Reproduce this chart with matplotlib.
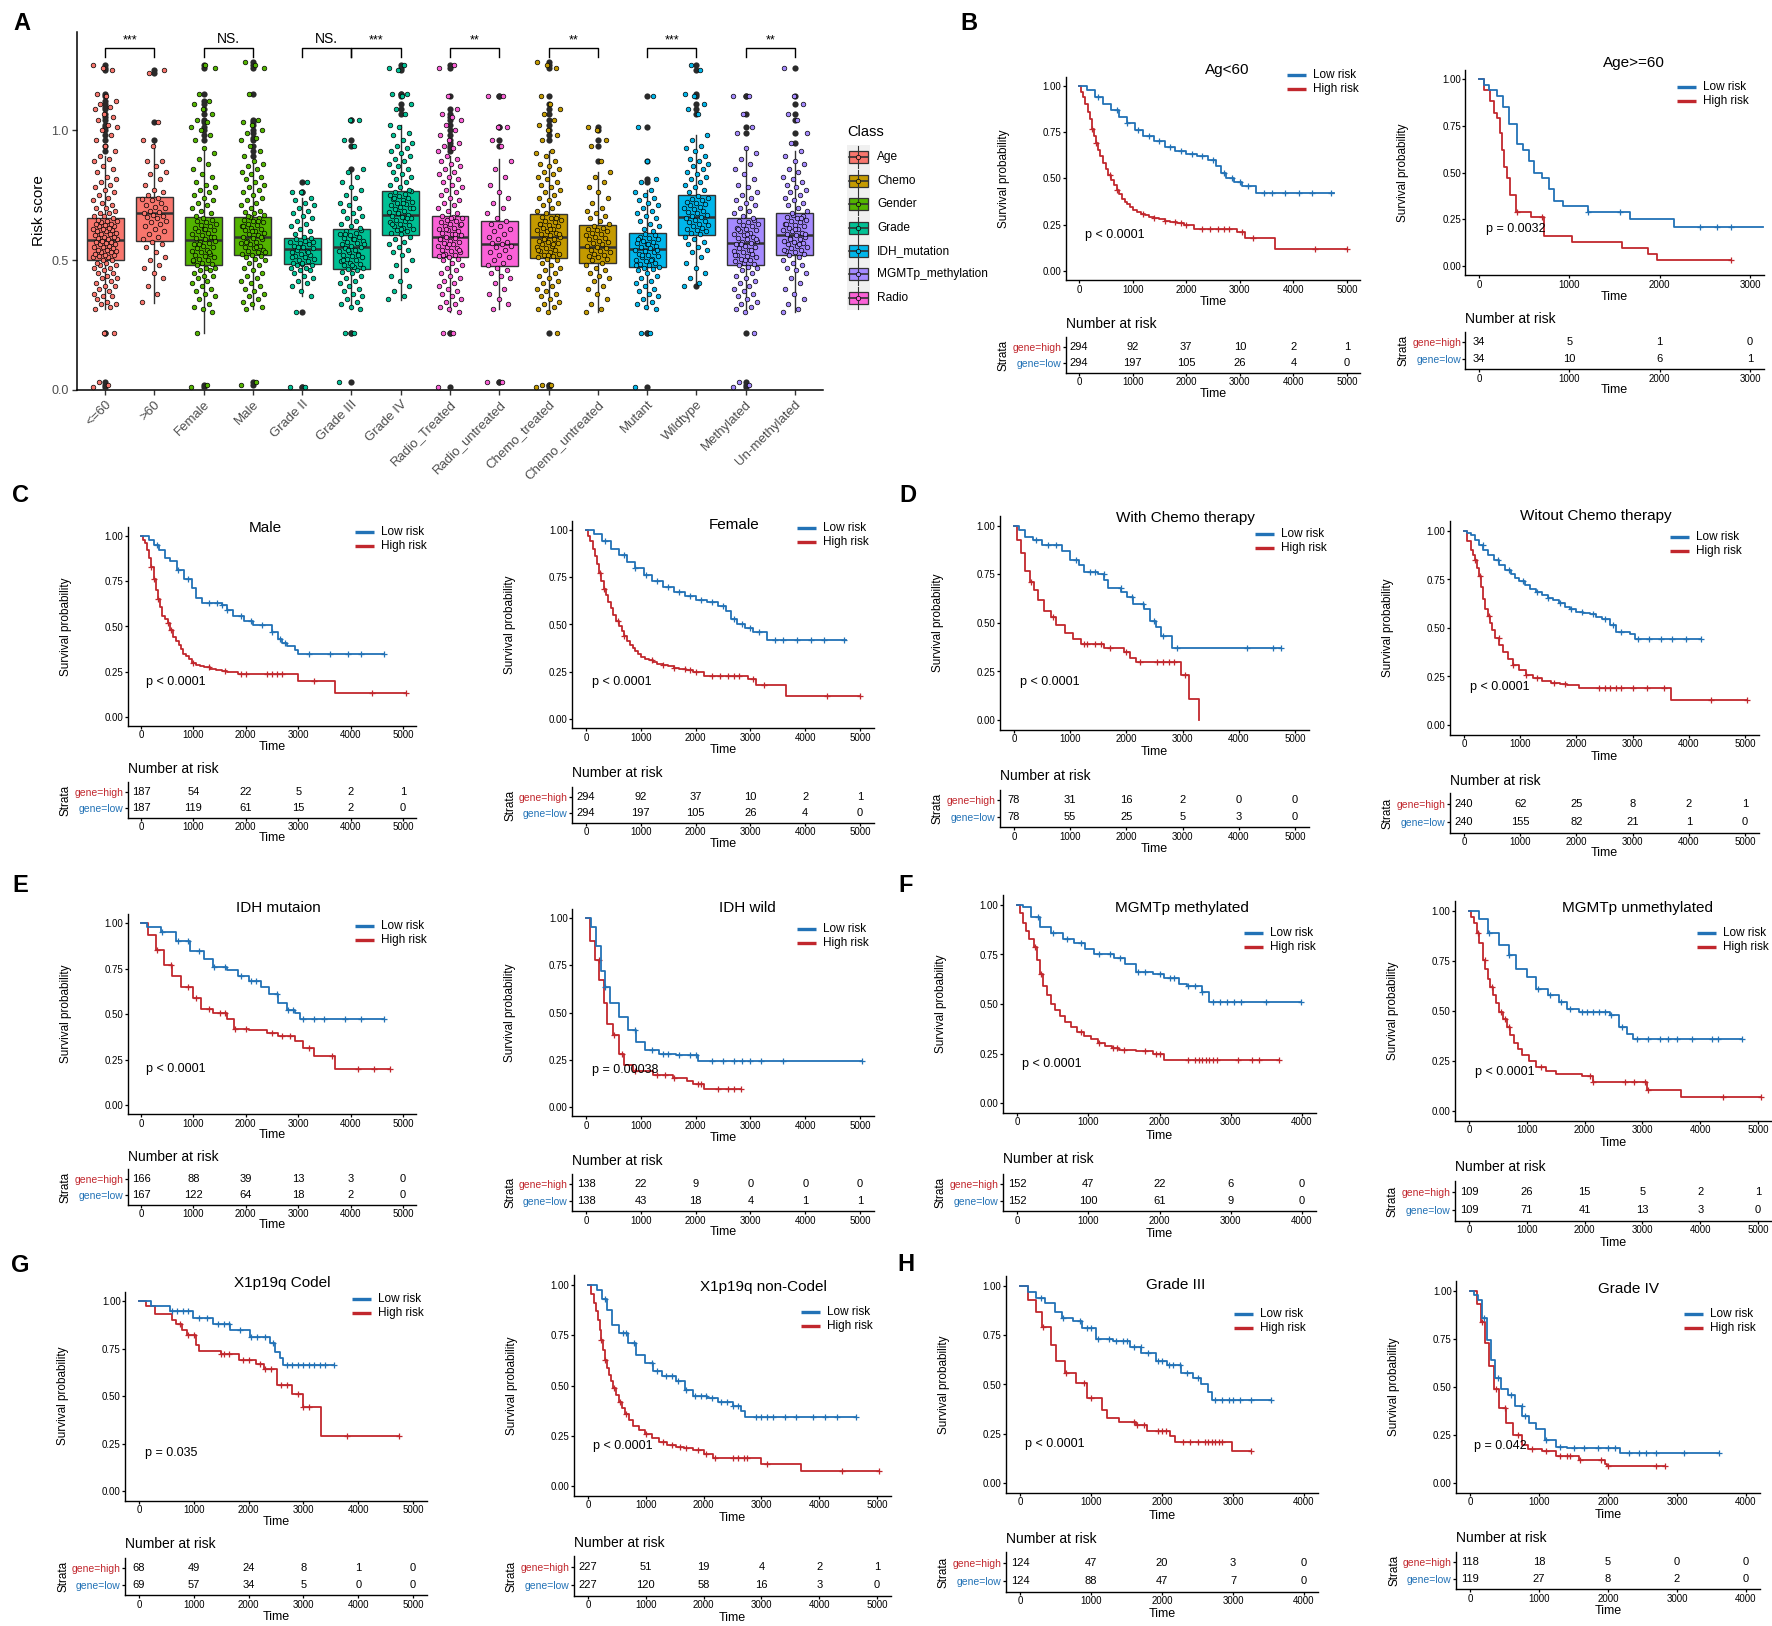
import numpy as np
import matplotlib
matplotlib.use("Agg")
import matplotlib.pyplot as plt
from matplotlib.patches import Rectangle

plt.rcParams['font.family'] = ['Liberation Sans', 'DejaVu Sans']

# ======================= Panel A data =======================
A_cats = ['<=60', '>60', 'Female', 'Male', 'Grade II', 'Grade III', 'Grade IV',
          'Radio_Treated', 'Radio_untreated', 'Chemo_treated', 'Chemo_untreated',
          'Mutant', 'Wildtype', 'Methylated', 'Un-methylated']
A_class = ['Age', 'Age', 'Gender', 'Gender', 'Grade', 'Grade', 'Grade', 'Radio', 'Radio',
           'Chemo', 'Chemo', 'IDH_mutation', 'IDH_mutation', 'MGMTp_methylation', 'MGMTp_methylation']
A_q1 = [0.500, 0.574, 0.481, 0.519, 0.483, 0.464, 0.595, 0.513, 0.477, 0.509, 0.487, 0.474, 0.595, 0.481, 0.519]
A_med = [0.577, 0.679, 0.577, 0.587, 0.541, 0.549, 0.673, 0.590, 0.560, 0.590, 0.551, 0.541, 0.667, 0.567, 0.597]
A_q3 = [0.660, 0.744, 0.664, 0.667, 0.586, 0.619, 0.767, 0.669, 0.651, 0.676, 0.635, 0.603, 0.750, 0.660, 0.679]
A_wlo = [0.31, 0.333, 0.218, 0.31, 0.36, 0.31, 0.346, 0.30, 0.31, 0.30, 0.30, 0.31, 0.404, 0.30, 0.30]
A_whi = [0.90, 0.959, 0.93, 0.88, 0.74, 0.846, 1.02, 0.90, 0.887, 0.92, 0.84, 0.77, 0.98, 0.93, 0.92]

pts_le60 = [0.01, 0.02, 0.03, 0.22, 0.22,
            0.31, 0.32, 0.33, 0.33, 0.34, 0.35, 0.36, 0.36, 0.37, 0.38, 0.39, 0.40, 0.40, 0.41, 0.42, 0.43, 0.43,
            0.44, 0.45, 0.45, 0.46, 0.47, 0.47, 0.48, 0.48, 0.49, 0.49,
            0.50, 0.50, 0.51, 0.51, 0.515, 0.52, 0.52, 0.525, 0.53, 0.53, 0.535, 0.54, 0.54, 0.545, 0.55, 0.55,
            0.555, 0.56, 0.56, 0.565, 0.57, 0.57, 0.575, 0.58, 0.58, 0.585, 0.59, 0.59, 0.595, 0.60, 0.60, 0.605,
            0.61, 0.61, 0.615, 0.62, 0.62, 0.625, 0.63, 0.63, 0.635, 0.64, 0.64, 0.645, 0.65, 0.65, 0.655, 0.66,
            0.67, 0.67, 0.68, 0.68, 0.69, 0.70, 0.70, 0.71, 0.72, 0.73, 0.74, 0.75, 0.76, 0.77, 0.78, 0.79, 0.80,
            0.81, 0.82, 0.84, 0.85, 0.86, 0.88, 0.89, 0.90,
            0.92, 0.94, 0.96, 0.98, 1.00, 1.01, 1.02, 1.04, 1.05, 1.06, 1.08, 1.09, 1.10, 1.11, 1.13, 1.14, 1.23,
            1.24, 1.25]
pts_gt60 = [0.34, 0.37, 0.40, 0.43, 0.45, 0.47, 0.48, 0.50, 0.51, 0.53, 0.55, 0.56, 0.57, 0.58, 0.59, 0.60, 0.61,
            0.62, 0.63, 0.64, 0.645, 0.65, 0.66, 0.665, 0.67, 0.675, 0.68, 0.685, 0.69, 0.70, 0.705, 0.71, 0.72,
            0.73, 0.735, 0.74, 0.75, 0.76, 0.77, 0.79, 0.81, 0.83, 0.84, 0.86, 0.88, 0.88, 0.94, 0.96, 1.03, 1.22, 1.23]
pts_female = [0.01, 0.02, 0.22, 0.30, 0.31, 0.32, 0.33, 0.35, 0.36, 0.37, 0.38, 0.39, 0.40, 0.41, 0.42, 0.43, 0.44,
              0.44, 0.45, 0.46, 0.46, 0.47, 0.47, 0.48,
              0.485, 0.49, 0.495, 0.50, 0.505, 0.51, 0.515, 0.52, 0.525, 0.53, 0.535, 0.54, 0.545, 0.55, 0.555,
              0.56, 0.565, 0.57, 0.575, 0.58, 0.585, 0.59, 0.595, 0.60, 0.605, 0.61, 0.615, 0.62, 0.625, 0.63,
              0.635, 0.64, 0.645, 0.65, 0.655, 0.66, 0.50, 0.53, 0.56, 0.59, 0.62,
              0.67, 0.68, 0.69, 0.70, 0.71, 0.72, 0.73, 0.74, 0.75, 0.76, 0.77, 0.78, 0.79, 0.80, 0.82, 0.83, 0.85,
              0.87, 0.89, 0.91, 0.93,
              0.96, 0.98, 1.00, 1.01, 1.03, 1.04, 1.06, 1.08, 1.10, 1.11, 1.14, 1.24, 1.25]
pts_male = [0.02, 0.03, 0.31, 0.32, 0.33, 0.34, 0.35, 0.36, 0.37, 0.38, 0.39, 0.40, 0.41, 0.42, 0.43, 0.44, 0.45,
            0.46, 0.47, 0.48, 0.49, 0.50, 0.505, 0.51, 0.515,
            0.52, 0.525, 0.53, 0.535, 0.54, 0.545, 0.55, 0.555, 0.56, 0.565, 0.57, 0.575, 0.58, 0.585, 0.59,
            0.595, 0.60, 0.605, 0.61, 0.615, 0.62, 0.625, 0.63, 0.635, 0.64, 0.645, 0.65, 0.655, 0.66, 0.665,
            0.53, 0.55, 0.57, 0.59, 0.61, 0.63, 0.65,
            0.67, 0.675, 0.68, 0.685, 0.69, 0.70, 0.71, 0.72, 0.73, 0.74, 0.75, 0.76, 0.77, 0.78, 0.79, 0.80,
            0.81, 0.82, 0.83, 0.84, 0.85, 0.86, 0.87, 0.88,
            0.90, 0.92, 0.94, 0.96, 0.97, 0.99, 1.00, 1.02, 1.03, 1.04, 1.14, 1.24, 1.25, 1.26]
pts_g2 = [0.01, 0.01, 0.30, 0.36, 0.38, 0.40, 0.41, 0.42, 0.43, 0.44, 0.45, 0.46, 0.46, 0.47, 0.47, 0.48, 0.48,
          0.485, 0.49, 0.495, 0.50, 0.505, 0.51, 0.515, 0.52, 0.525, 0.53, 0.535, 0.54, 0.545, 0.55, 0.555, 0.56,
          0.565, 0.57, 0.575, 0.58, 0.585, 0.49, 0.51, 0.53, 0.55, 0.57,
          0.59, 0.60, 0.61, 0.62, 0.63, 0.64, 0.65, 0.66, 0.67, 0.68, 0.69, 0.70, 0.71, 0.72, 0.73, 0.74,
          0.76, 0.76, 0.80]
pts_g3 = [0.03, 0.22, 0.22, 0.31, 0.32, 0.33, 0.34, 0.35, 0.36, 0.37, 0.38, 0.39, 0.40, 0.41, 0.42, 0.43, 0.44,
          0.45, 0.455, 0.46,
          0.465, 0.47, 0.475, 0.48, 0.485, 0.49, 0.495, 0.50, 0.505, 0.51, 0.515, 0.52, 0.525, 0.53, 0.535, 0.54,
          0.545, 0.55, 0.555, 0.56, 0.565, 0.57, 0.575, 0.58, 0.585, 0.59, 0.595, 0.60, 0.605, 0.61, 0.615,
          0.48, 0.50, 0.52, 0.54, 0.56, 0.58, 0.60,
          0.625, 0.63, 0.64, 0.65, 0.66, 0.67, 0.68, 0.69, 0.70, 0.71, 0.72, 0.74, 0.75, 0.77, 0.78, 0.80, 0.82,
          0.84, 0.85, 0.94, 0.96, 1.04, 1.04]
pts_g4 = [0.35, 0.36, 0.38, 0.40, 0.42, 0.44, 0.46, 0.48, 0.50, 0.52, 0.53, 0.54, 0.55, 0.56, 0.57, 0.58, 0.59,
          0.60, 0.605, 0.61, 0.615, 0.62, 0.625, 0.63, 0.635, 0.64, 0.645, 0.65, 0.655, 0.66, 0.665, 0.67, 0.675,
          0.68, 0.685, 0.69, 0.695, 0.70, 0.705, 0.71, 0.715, 0.72, 0.725, 0.73, 0.735, 0.74, 0.745, 0.75, 0.755,
          0.76, 0.765, 0.62, 0.64, 0.66, 0.68, 0.70, 0.72, 0.74,
          0.77, 0.78, 0.79, 0.80, 0.81, 0.82, 0.83, 0.84, 0.85, 0.86, 0.87, 0.88, 0.89, 0.90, 0.91, 0.92, 0.93,
          0.94, 0.95, 0.96, 0.98, 0.99, 1.01, 1.02,
          1.06, 1.08, 1.10, 1.13, 1.14, 1.14, 1.23, 1.24, 1.25]
pts_radio_t = [0.01, 0.22, 0.22, 0.30, 0.31, 0.32, 0.33, 0.34, 0.35, 0.36, 0.37, 0.38, 0.39, 0.40, 0.41, 0.42, 0.43,
               0.44, 0.45, 0.46, 0.47, 0.48, 0.49, 0.50, 0.505, 0.51,
               0.515, 0.52, 0.525, 0.53, 0.535, 0.54, 0.545, 0.55, 0.555, 0.56, 0.565, 0.57, 0.575, 0.58, 0.585,
               0.59, 0.595, 0.60, 0.605, 0.61, 0.615, 0.62, 0.625, 0.63, 0.635, 0.64, 0.645, 0.65, 0.655, 0.66,
               0.665, 0.52, 0.54, 0.56, 0.58, 0.60, 0.62, 0.64, 0.66,
               0.67, 0.68, 0.69, 0.70, 0.71, 0.72, 0.73, 0.74, 0.75, 0.76, 0.77, 0.78, 0.79, 0.80, 0.81, 0.82, 0.83,
               0.84, 0.85, 0.86, 0.87, 0.88, 0.89, 0.90,
               0.92, 0.93, 0.94, 0.95, 0.96, 0.98, 1.00, 1.02, 1.04, 1.05, 1.06, 1.08, 1.13, 1.24, 1.25]
pts_radio_u = [0.03, 0.03, 0.31, 0.33, 0.35, 0.37, 0.39, 0.41, 0.43, 0.44, 0.45, 0.46, 0.47, 0.48, 0.49, 0.50, 0.51,
               0.52, 0.53, 0.54, 0.55, 0.555, 0.56, 0.565, 0.57, 0.58, 0.59, 0.60, 0.61, 0.62, 0.63, 0.64, 0.65,
               0.66, 0.68, 0.70, 0.72, 0.74, 0.76, 0.79, 0.82, 0.85, 0.88, 0.94, 0.96, 1.01, 1.01, 1.13, 1.13]
pts_chemo_t = [0.01, 0.02, 0.02, 0.22, 0.30, 0.31, 0.32, 0.33, 0.34, 0.35, 0.36, 0.37, 0.38, 0.39, 0.40, 0.41, 0.42,
               0.43, 0.44, 0.45, 0.46, 0.47, 0.48, 0.49, 0.50, 0.505,
               0.51, 0.515, 0.52, 0.525, 0.53, 0.535, 0.54, 0.545, 0.55, 0.555, 0.56, 0.565, 0.57, 0.575, 0.58,
               0.585, 0.59, 0.595, 0.60, 0.605, 0.61, 0.615, 0.62, 0.625, 0.63, 0.635, 0.64, 0.645, 0.65, 0.655,
               0.66, 0.665, 0.67, 0.52, 0.54, 0.56, 0.58, 0.60, 0.62, 0.64, 0.66,
               0.68, 0.69, 0.70, 0.71, 0.72, 0.73, 0.74, 0.75, 0.76, 0.77, 0.78, 0.79, 0.80, 0.81, 0.82, 0.83, 0.84,
               0.85, 0.86, 0.87, 0.88, 0.90, 0.91, 0.92,
               0.96, 0.98, 1.00, 1.02, 1.04, 1.06, 1.08, 1.10, 1.13, 1.24, 1.25, 1.26]
pts_chemo_u = [0.30, 0.31, 0.33, 0.35, 0.37, 0.39, 0.40, 0.42, 0.43, 0.44, 0.45, 0.46, 0.47, 0.48, 0.49, 0.50, 0.505,
               0.51, 0.515, 0.52, 0.525, 0.53, 0.535, 0.54, 0.545, 0.55, 0.555, 0.56, 0.565, 0.57, 0.575, 0.58,
               0.585, 0.59, 0.595, 0.60, 0.605, 0.61, 0.615, 0.62, 0.625, 0.63, 0.64, 0.65, 0.66, 0.67, 0.68, 0.69,
               0.70, 0.72, 0.74, 0.76, 0.78, 0.80, 0.82, 0.84, 0.88, 0.94, 0.96, 1.00, 1.01]
pts_mutant = [0.01, 0.22, 0.22, 0.31, 0.32, 0.33, 0.34, 0.35, 0.36, 0.37, 0.38, 0.39, 0.40, 0.41, 0.42, 0.43, 0.44,
              0.45, 0.46, 0.465, 0.47,
              0.475, 0.48, 0.485, 0.49, 0.495, 0.50, 0.505, 0.51, 0.515, 0.52, 0.525, 0.53, 0.535, 0.54, 0.545,
              0.55, 0.555, 0.56, 0.565, 0.57, 0.575, 0.58, 0.585, 0.59, 0.595, 0.60,
              0.48, 0.50, 0.52, 0.54, 0.56, 0.58,
              0.61, 0.62, 0.63, 0.64, 0.65, 0.66, 0.67, 0.68, 0.69, 0.70, 0.71, 0.72, 0.73, 0.74, 0.75, 0.76, 0.77,
              0.80, 0.81, 0.88, 1.01, 1.13]
pts_wild = [0.40, 0.41, 0.43, 0.45, 0.47, 0.49, 0.51, 0.53, 0.54, 0.55, 0.56, 0.57, 0.58, 0.59,
            0.60, 0.605, 0.61, 0.615, 0.62, 0.625, 0.63, 0.635, 0.64, 0.645, 0.65, 0.655, 0.66, 0.665, 0.67, 0.675,
            0.68, 0.685, 0.69, 0.695, 0.70, 0.705, 0.71, 0.715, 0.72, 0.725, 0.73, 0.735, 0.74, 0.745,
            0.76, 0.77, 0.78, 0.79, 0.80, 0.81, 0.82, 0.83, 0.84, 0.85, 0.86, 0.87, 0.88, 0.89, 0.90, 0.92, 0.93,
            0.94, 0.96, 0.98, 1.06, 1.08, 1.10, 1.13, 1.14, 1.23, 1.25]
pts_meth = [0.01, 0.02, 0.03, 0.22, 0.30, 0.31, 0.32, 0.33, 0.34, 0.35, 0.36, 0.37, 0.38, 0.39, 0.40, 0.41, 0.42,
            0.43, 0.44, 0.45, 0.46, 0.47, 0.475, 0.48,
            0.485, 0.49, 0.495, 0.50, 0.505, 0.51, 0.515, 0.52, 0.525, 0.53, 0.535, 0.54, 0.545, 0.55, 0.555, 0.56,
            0.565, 0.57, 0.575, 0.58, 0.585, 0.59, 0.595, 0.60, 0.605, 0.61, 0.615, 0.62, 0.625, 0.63, 0.635,
            0.64, 0.645, 0.65, 0.655, 0.50, 0.52, 0.54, 0.56, 0.58, 0.60, 0.62,
            0.66, 0.67, 0.68, 0.69, 0.70, 0.71, 0.72, 0.73, 0.74, 0.75, 0.76, 0.78, 0.79, 0.81, 0.83, 0.85, 0.87,
            0.89, 0.91, 0.93, 0.99, 1.01, 1.06, 1.13, 1.13]
pts_unmeth = [0.30, 0.31, 0.33, 0.35, 0.37, 0.39, 0.41, 0.43, 0.45, 0.46, 0.47, 0.48, 0.49, 0.50, 0.51,
              0.52, 0.525, 0.53, 0.535, 0.54, 0.545, 0.55, 0.555, 0.56, 0.565, 0.57, 0.575, 0.58, 0.585, 0.59,
              0.595, 0.60, 0.605, 0.61, 0.615, 0.62, 0.625, 0.63, 0.635, 0.64, 0.645, 0.65, 0.655, 0.66, 0.665,
              0.67, 0.675, 0.54, 0.56, 0.58, 0.60, 0.62, 0.64, 0.66,
              0.68, 0.69, 0.70, 0.71, 0.72, 0.73, 0.74, 0.75, 0.76, 0.77, 0.78, 0.79, 0.80, 0.81, 0.82, 0.84, 0.85,
              0.87, 0.88, 0.90, 0.92, 0.95, 0.99, 1.04, 1.06, 1.10, 1.13, 1.24]
A_points = [pts_le60, pts_gt60, pts_female, pts_male, pts_g2, pts_g3, pts_g4, pts_radio_t, pts_radio_u,
            pts_chemo_t, pts_chemo_u, pts_mutant, pts_wild, pts_meth, pts_unmeth]
A_pairs = [(0, 1, '***'), (2, 3, 'NS.'), (4, 5, 'NS.'), (5, 6, '***'), (7, 8, '**'),
           (9, 10, '**'), (11, 12, '***'), (13, 14, '**')]
legend_classes = ['Age', 'Chemo', 'Gender', 'Grade', 'IDH_mutation', 'MGMTp_methylation', 'Radio']
class_colors = ['#F8766D', '#C49A00', '#53B400', '#00C094', '#00B6EB', '#A58AFF', '#FB61D7']

# ======================= KM data (time, survival, censor times) =======================
lt60_low_t = [0, 150, 300, 450, 600, 750, 900, 1050, 1200, 1400, 1600, 1800, 2000, 2200, 2400, 2550, 2650, 2750, 2900, 3050, 3300, 4750]
lt60_low_s = [1, 0.98, 0.94, 0.90, 0.87, 0.83, 0.80, 0.76, 0.73, 0.70, 0.67, 0.65, 0.63, 0.62, 0.60, 0.57, 0.53, 0.50, 0.48, 0.46, 0.42, 0.42]
lt60_low_c = [350, 700, 900, 1100, 1300, 1500, 1700, 1900, 2100, 2300, 2500, 2700, 2850, 3000, 3150, 3450, 3600, 3850, 4100, 4350, 4700]
lt60_high_t = [0, 40, 80, 120, 160, 200, 240, 280, 320, 360, 400, 450, 500, 550, 600, 650, 700, 750, 800, 850, 900, 950, 1000,
               1075, 1150, 1225, 1300, 1400, 1500, 1600, 1700, 1825, 1950, 2150, 2950, 3100, 3650, 5000]
lt60_high_s = [1, 0.97, 0.94, 0.90, 0.86, 0.82, 0.77, 0.73, 0.69, 0.655, 0.62, 0.585, 0.55, 0.52, 0.49, 0.465, 0.44, 0.415, 0.39,
               0.375, 0.36, 0.345, 0.33, 0.32, 0.31, 0.30, 0.29, 0.285, 0.28, 0.27, 0.265, 0.258, 0.25, 0.225, 0.21, 0.18, 0.12, 0.12]
lt60_high_c = [250, 320, 580, 700, 1200, 1400, 1600, 1800, 1900, 2000, 2300, 2450, 2600, 2700, 2800, 3050, 3250, 4400, 5000]

ge60_low_t = [0, 60, 110, 200, 265, 330, 420, 490, 550, 610, 700, 770, 830, 930, 1210, 1670, 2160, 3140]
ge60_low_s = [1, 0.97, 0.94, 0.91, 0.85, 0.76, 0.65, 0.62, 0.56, 0.50, 0.47, 0.41, 0.35, 0.32, 0.29, 0.25, 0.21, 0.21]
ge60_low_c = [1210, 1560, 2450, 2630, 2790]
ge60_high_t = [0, 60, 125, 170, 200, 235, 255, 280, 315, 345, 405, 580, 720, 1035, 1580, 1875, 1970, 2790]
ge60_high_s = [1, 0.94, 0.88, 0.82, 0.79, 0.71, 0.62, 0.53, 0.47, 0.38, 0.29, 0.26, 0.16, 0.13, 0.095, 0.065, 0.03, 0.03]
ge60_high_c = [420, 700, 2790]

male_low_t = [0, 160, 250, 350, 450, 560, 690, 830, 970, 1050, 1160, 1550, 1650, 1750, 1970, 2130, 2500, 2620, 2700, 2780, 2940, 3000, 4640]
male_low_s = [1, 0.98, 0.95, 0.92, 0.88, 0.86, 0.81, 0.76, 0.71, 0.66, 0.63, 0.62, 0.59, 0.56, 0.53, 0.51, 0.47, 0.43, 0.41, 0.39, 0.37, 0.35, 0.35]
male_low_c = [300, 700, 900, 1300, 1450, 1550, 1650, 1900, 2100, 2300, 2500, 2650, 2750, 3200, 3600, 3950, 4200, 4640]
male_high_t = [0, 40, 76, 110, 150, 195, 240, 290, 325, 360, 400, 450, 510, 560, 620, 670, 725, 760, 800, 860, 920, 980,
               1050, 1130, 1210, 1320, 1430, 1540, 1650, 1860, 3000, 3700, 5050]
male_high_s = [1, 0.98, 0.96, 0.92, 0.88, 0.83, 0.76, 0.70, 0.65, 0.61, 0.56, 0.54, 0.52, 0.48, 0.44, 0.42, 0.40, 0.375, 0.35,
               0.335, 0.32, 0.30, 0.29, 0.28, 0.275, 0.265, 0.26, 0.255, 0.25, 0.24, 0.20, 0.13, 0.13]
male_high_c = [200, 250, 330, 520, 570, 1000, 1300, 1600, 1900, 2000, 2400, 2500, 2600, 2700, 3300, 4400, 5050]

chemo_low_t = [0, 90, 190, 340, 500, 850, 1000, 1150, 1250, 1500, 1610, 1680, 1910, 2010, 2120, 2320, 2420, 2520, 2620, 2820, 4750]
chemo_low_s = [1, 0.98, 0.945, 0.93, 0.90, 0.87, 0.825, 0.80, 0.765, 0.75, 0.72, 0.68, 0.66, 0.635, 0.60, 0.57, 0.51, 0.48, 0.435, 0.37, 0.37]
chemo_low_c = [400, 600, 750, 1100, 1350, 1450, 1600, 1900, 2100, 2300, 2500, 2650, 2900, 4150, 4600, 4750]
chemo_high_t = [0, 60, 120, 190, 290, 360, 425, 525, 650, 750, 900, 1050, 1200, 1600, 1960, 2060, 2170, 2980, 3110, 3300]
chemo_high_s = [1, 0.93, 0.86, 0.77, 0.71, 0.67, 0.62, 0.56, 0.53, 0.49, 0.45, 0.42, 0.39, 0.37, 0.35, 0.32, 0.30, 0.23, 0.11, 0.0]
chemo_high_c = [300, 700, 1250, 1300, 1450, 1550, 1700, 2000, 2250, 2550, 2650, 2750, 2850, 3050]

nochemo_low_t = [0, 60, 120, 195, 270, 345, 420, 525, 630, 730, 830, 905, 980, 1080, 1180, 1290, 1390, 1490, 1590, 1690,
                 1790, 1890, 1990, 2120, 2250, 2350, 2450, 2600, 2700, 2950, 3040, 4220]
nochemo_low_s = [1, 0.99, 0.98, 0.955, 0.93, 0.90, 0.875, 0.85, 0.825, 0.80, 0.78, 0.76, 0.74, 0.72, 0.70, 0.685, 0.67,
                 0.657, 0.645, 0.63, 0.61, 0.597, 0.585, 0.577, 0.57, 0.557, 0.545, 0.515, 0.48, 0.47, 0.445, 0.445]
nochemo_low_c = [330, 600, 800, 1050, 1300, 1500, 1700, 1900, 2100, 2300, 2500, 2650, 2800, 3100, 3300, 3500, 3700, 3950, 4220]
nochemo_high_t = [0, 60, 120, 160, 200, 235, 270, 305, 340, 380, 420, 460, 500, 560, 630, 700, 780, 880, 980, 1100, 1230,
                  1380, 1540, 1700, 1840, 2040, 3680, 5030]
nochemo_high_s = [1, 0.95, 0.90, 0.875, 0.85, 0.81, 0.77, 0.71, 0.65, 0.60, 0.56, 0.525, 0.49, 0.45, 0.41, 0.375, 0.34, 0.31,
                  0.285, 0.26, 0.24, 0.225, 0.215, 0.21, 0.205, 0.19, 0.13, 0.13]
nochemo_high_c = [200, 290, 450, 620, 880, 1100, 1300, 1600, 1800, 2400, 2500, 2600, 2700, 2800, 3000, 3250, 3550, 4400, 5030]

idhm_low_t = [0, 120, 390, 660, 930, 1200, 1370, 1640, 1850, 2070, 2290, 2450, 2610, 2780, 2940, 3030, 4640]
idhm_low_s = [1, 0.98, 0.95, 0.90, 0.845, 0.80, 0.76, 0.74, 0.71, 0.68, 0.65, 0.61, 0.56, 0.52, 0.505, 0.47, 0.47]
idhm_low_c = [400, 700, 900, 1100, 1400, 1600, 1900, 2100, 2200, 2600, 2800, 2900, 3100, 3300, 3500, 3900, 4200, 4640]
idhm_high_t = [0, 140, 280, 445, 600, 770, 990, 1150, 1370, 1640, 1770, 2070, 2400, 2610, 2940, 3100, 3300, 3700, 4760]
idhm_high_s = [1, 0.935, 0.85, 0.77, 0.71, 0.65, 0.59, 0.53, 0.505, 0.47, 0.415, 0.41, 0.395, 0.38, 0.35, 0.315, 0.27, 0.20, 0.20]
idhm_high_c = [300, 580, 900, 1050, 1300, 1500, 1600, 1800, 2000, 2500, 2700, 2850, 3200, 3650, 4150, 4450, 4760]

idhw_low_t = [0, 100, 190, 270, 340, 445, 600, 760, 910, 1070, 1330, 1640, 2050, 5030]
idhw_low_s = [1, 0.95, 0.85, 0.72, 0.635, 0.55, 0.476, 0.405, 0.345, 0.30, 0.28, 0.275, 0.245, 0.245]
idhw_low_c = [350, 900, 1200, 1400, 1500, 1700, 1900, 2000, 2300, 2500, 2700, 2850, 3000, 3200, 3600, 5030]
idhw_high_t = [0, 80, 170, 240, 320, 390, 500, 600, 700, 860, 1220, 1580, 1840, 1950, 2150, 2830]
idhw_high_s = [1, 0.88, 0.78, 0.67, 0.55, 0.44, 0.38, 0.28, 0.22, 0.19, 0.17, 0.155, 0.14, 0.12, 0.097, 0.097]
idhw_high_c = [230, 520, 650, 900, 1300, 1450, 1600, 2050, 2100, 2400, 2600, 2700, 2830]

meth_low_t = [0, 80, 200, 320, 480, 640, 800, 960, 1080, 1360, 1510, 1670, 1910, 2070, 2270, 2390, 2590, 2690, 3980]
meth_low_s = [1, 0.99, 0.94, 0.89, 0.86, 0.83, 0.81, 0.78, 0.75, 0.73, 0.70, 0.66, 0.65, 0.63, 0.60, 0.59, 0.56, 0.51, 0.51]
meth_low_c = [300, 500, 700, 900, 1150, 1300, 1450, 1700, 1800, 2000, 2150, 2200, 2400, 2500, 2600, 2750, 2850, 2950, 3050, 3150, 3500, 3980]
meth_high_t = [0, 40, 80, 130, 175, 240, 280, 320, 370, 420, 480, 540, 610, 680, 760, 840, 940, 1040, 1140, 1240, 1330,
               1430, 1670, 1910, 2070, 3680]
meth_high_s = [1, 0.96, 0.91, 0.87, 0.83, 0.79, 0.72, 0.65, 0.59, 0.545, 0.50, 0.47, 0.44, 0.41, 0.385, 0.36, 0.34, 0.325,
               0.305, 0.29, 0.28, 0.27, 0.265, 0.25, 0.215, 0.215]
meth_high_c = [250, 330, 900, 1150, 1350, 1400, 1500, 1800, 1950, 2000, 2400, 2500, 2550, 2600, 2650, 2700, 2750, 2800, 3100, 3300, 3400, 3680]

unmeth_low_t = [0, 180, 325, 520, 700, 820, 1010, 1160, 1360, 1550, 1700, 1900, 2440, 2590, 2740, 2830, 4730]
unmeth_low_s = [1, 0.96, 0.89, 0.83, 0.78, 0.71, 0.67, 0.61, 0.58, 0.545, 0.51, 0.495, 0.48, 0.42, 0.385, 0.36, 0.36]
unmeth_low_c = [350, 700, 1200, 1400, 1600, 1750, 1950, 2050, 2150, 2250, 2350, 2450, 2650, 2900, 3100, 3300, 3450, 3600, 3850, 4200, 4300, 4730]
unmeth_high_t = [0, 40, 80, 130, 180, 245, 285, 325, 370, 420, 470, 520, 585, 650, 710, 770, 840, 915, 1040, 1160, 1330,
                 1500, 1950, 2150, 3080, 3670, 5050]
unmeth_high_s = [1, 0.97, 0.94, 0.89, 0.84, 0.755, 0.71, 0.66, 0.62, 0.58, 0.54, 0.495, 0.46, 0.42, 0.38, 0.34, 0.31, 0.28,
                 0.25, 0.22, 0.20, 0.187, 0.175, 0.145, 0.105, 0.07, 0.07]
unmeth_high_c = [160, 280, 400, 550, 620, 700, 1250, 2100, 2150, 2700, 2850, 3050, 3100, 4400, 5050]

codel_low_t = [0, 210, 570, 985, 1350, 1660, 2020, 2390, 2490, 2570, 2620, 3560]
codel_low_s = [1, 0.975, 0.95, 0.91, 0.88, 0.85, 0.81, 0.78, 0.73, 0.70, 0.665, 0.665]
codel_low_c = [600, 700, 800, 900, 1100, 1250, 1450, 1550, 1650, 1850, 2050, 2150, 2300, 2450, 2700, 2800, 2900, 3000, 3100, 3200, 3300, 3400, 3560]
codel_high_t = [0, 135, 300, 600, 680, 780, 880, 1040, 1090, 1500, 1820, 2130, 2280, 2520, 2800, 2990, 3320, 4750]
codel_high_s = [1, 0.975, 0.93, 0.90, 0.88, 0.85, 0.82, 0.77, 0.735, 0.72, 0.69, 0.67, 0.64, 0.56, 0.51, 0.44, 0.29, 0.29]
codel_high_c = [750, 900, 1000, 1500, 1550, 1650, 1900, 2000, 2200, 2300, 2400, 2600, 2700, 2900, 3000, 3100, 3800, 4750]

noncodel_low_t = [0, 150, 245, 325, 420, 540, 690, 830, 980, 1130, 1280, 1520, 1670, 1810, 2060, 2250, 2500, 2650, 2720, 4640]
noncodel_low_s = [1, 0.975, 0.93, 0.875, 0.80, 0.76, 0.71, 0.65, 0.61, 0.57, 0.545, 0.52, 0.48, 0.45, 0.44, 0.42, 0.40, 0.375, 0.345, 0.345]
noncodel_low_c = [300, 600, 650, 800, 1100, 1200, 1350, 1450, 1550, 1700, 1850, 1950, 2050, 2150, 2300, 2400, 2500, 2600,
                  2900, 3000, 3100, 3200, 3400, 3600, 3900, 4100, 4300, 4640]
noncodel_high_t = [0, 50, 100, 135, 170, 200, 225, 260, 295, 330, 365, 400, 440, 490, 540, 590, 640, 710, 785, 880, 980,
                   1100, 1225, 1370, 1520, 1660, 1810, 2010, 2160, 2990, 3680, 5030]
noncodel_high_s = [1, 0.955, 0.91, 0.87, 0.825, 0.775, 0.725, 0.675, 0.625, 0.585, 0.55, 0.52, 0.49, 0.455, 0.42, 0.39,
                   0.36, 0.33, 0.30, 0.28, 0.26, 0.24, 0.22, 0.205, 0.195, 0.188, 0.18, 0.16, 0.14, 0.11, 0.075, 0.075]
noncodel_high_c = [230, 300, 450, 560, 650, 1000, 1300, 1450, 1600, 1700, 1900, 2050, 2200, 2500, 2600, 2700, 2750, 3100, 4400, 5030]

g3_low_t = [0, 110, 230, 350, 495, 590, 750, 870, 1070, 1310, 1550, 1710, 1910, 2070, 2270, 2430, 2550, 2650, 2700, 3530]
g3_low_s = [1, 0.97, 0.94, 0.915, 0.87, 0.84, 0.82, 0.785, 0.73, 0.72, 0.69, 0.66, 0.62, 0.60, 0.56, 0.535, 0.50, 0.46, 0.42, 0.42]
g3_low_c = [300, 600, 850, 950, 1000, 1100, 1250, 1350, 1450, 1500, 1600, 1700, 1800, 1950, 2000, 2100, 2150, 2250,
            2350, 2500, 2750, 2850, 2950, 3000, 3100, 3250, 3530]
g3_high_t = [0, 110, 230, 310, 430, 510, 630, 790, 950, 1150, 1230, 1390, 1630, 1790, 2110, 2190, 2990, 3260]
g3_high_s = [1, 0.93, 0.87, 0.79, 0.70, 0.62, 0.56, 0.51, 0.43, 0.37, 0.33, 0.31, 0.295, 0.265, 0.24, 0.21, 0.16, 0.16]
g3_high_c = [320, 650, 900, 1000, 1600, 1650, 1750, 1950, 2000, 2050, 2300, 2400, 2500, 2600, 2650, 2700, 2750, 2800, 2850, 3260]

g4_low_t = [0, 55, 115, 180, 245, 305, 360, 445, 550, 655, 755, 855, 960, 1080, 1250, 1410, 2180, 3610]
g4_low_s = [1, 0.98, 0.955, 0.86, 0.745, 0.64, 0.545, 0.49, 0.46, 0.40, 0.35, 0.31, 0.28, 0.225, 0.19, 0.18, 0.155, 0.155]
g4_low_c = [200, 400, 600, 750, 800, 1100, 1300, 1500, 1650, 1850, 2000, 2100, 2300, 2450, 2550, 2700, 3100, 3610]
g4_high_t = [0, 100, 165, 220, 280, 345, 425, 525, 630, 755, 840, 1040, 1250, 1580, 1950, 1990, 2830]
g4_high_s = [1, 0.93, 0.84, 0.73, 0.61, 0.49, 0.39, 0.31, 0.25, 0.20, 0.175, 0.165, 0.14, 0.12, 0.10, 0.087, 0.087]
g4_high_c = [180, 380, 500, 700, 900, 1100, 1300, 1400, 1450, 1600, 1900, 2000, 2700, 2830]

# risk tables (number at risk at 0,1000,2000,...)
nar_lt60_high = [294, 92, 37, 10, 2, 1];   nar_lt60_low = [294, 197, 105, 26, 4, 0]
nar_ge60_high = [34, 5, 1, 0];             nar_ge60_low = [34, 10, 6, 1]
nar_male_high = [187, 54, 22, 5, 2, 1];    nar_male_low = [187, 119, 61, 15, 2, 0]
nar_chemo_high = [78, 31, 16, 2, 0, 0];    nar_chemo_low = [78, 55, 25, 5, 3, 0]
nar_nochemo_high = [240, 62, 25, 8, 2, 1]; nar_nochemo_low = [240, 155, 82, 21, 1, 0]
nar_idhm_high = [166, 88, 39, 13, 3, 0];   nar_idhm_low = [167, 122, 64, 18, 2, 0]
nar_idhw_high = [138, 22, 9, 0, 0, 0];     nar_idhw_low = [138, 43, 18, 4, 1, 1]
nar_meth_high = [152, 47, 22, 6, 0];       nar_meth_low = [152, 100, 61, 9, 0]
nar_unmeth_high = [109, 26, 15, 5, 2, 1];  nar_unmeth_low = [109, 71, 41, 13, 3, 0]
nar_codel_high = [68, 49, 24, 8, 1, 0];    nar_codel_low = [69, 57, 34, 5, 0, 0]
nar_noncodel_high = [227, 51, 19, 4, 2, 1]; nar_noncodel_low = [227, 120, 58, 16, 3, 0]
nar_g3_high = [124, 47, 20, 3, 0];         nar_g3_low = [124, 88, 47, 7, 0]
nar_g4_high = [118, 18, 5, 0, 0];          nar_g4_low = [119, 27, 8, 2, 0]

km_titles = ['Ag<60', 'Age>=60', 'Male', 'Female', 'With Chemo therapy', 'Witout Chemo therapy',
             'IDH mutaion', 'IDH wild', 'MGMTp methylated', 'MGMTp unmethylated',
             'X1p19q Codel', 'X1p19q non-Codel', 'Grade III', 'Grade IV']
km_pvals = ['p < 0.0001', 'p = 0.0032', 'p < 0.0001', 'p < 0.0001', 'p < 0.0001', 'p < 0.0001',
            'p < 0.0001', 'p = 0.00038', 'p < 0.0001', 'p < 0.0001', 'p = 0.035', 'p < 0.0001',
            'p < 0.0001', 'p = 0.042']
km_xmax = [5000, 3000, 5000, 5000, 5000, 5000, 5000, 5000, 4000, 5000, 5000, 5000, 4000, 4000]

# ======================= layout (pixel positions) =======================
W, H = 1772, 1626
# x0, xe (pixel of 0 and xmax), y1, y0 (pixel of 1.0 and 0.0), title xy, legend xy, p xy,
# Time label y, 'Number at risk' y, risk row y (high, low), table Time y
LAY = [
    (1079, 1347, 86, 271, 1227, 70, 1287, 75, 1085, 235, 302, 324, 347, 363, 394),
    (1479, 1750, 79, 266, 1634, 63, 1677, 87, 1486, 229, 297, 319, 342, 359, 390),
    (141, 403, 536, 717, 265, 528, 355, 532, 146, 682, 747, 769, 792, 808, 838),
    (586, 860, 530, 719, 734, 525, 797, 528, 592, 682, 750, 773, 797, 813, 844),
    (1014, 1295, 526, 720, 1185, 518, 1255, 534, 1020, 682, 752, 776, 800, 817, 849),
    (1464, 1745, 531, 725, 1596, 516, 1670, 537, 1470, 687, 757, 781, 804, 822, 853),
    (141, 403, 923, 1105, 278, 908, 355, 926, 146, 1069, 1135, 1157, 1179, 1195, 1225),
    (586, 860, 918, 1107, 747, 908, 797, 929, 592, 1070, 1138, 1161, 1184, 1201, 1232),
    (1017, 1302, 905, 1103, 1182, 908, 1244, 933, 1022, 1064, 1136, 1159, 1184, 1201, 1234),
    (1469, 1758, 911, 1111, 1638, 908, 1697, 933, 1475, 1072, 1143, 1167, 1192, 1210, 1243),
    (139, 413, 1301, 1491, 282, 1283, 352, 1299, 145, 1453, 1522, 1544, 1568, 1585, 1617),
    (588, 877, 1285, 1486, 763, 1287, 801, 1312, 593, 1446, 1518, 1543, 1567, 1585, 1618),
    (1020, 1304, 1286, 1483, 1176, 1285, 1234, 1314, 1025, 1444, 1516, 1539, 1563, 1581, 1614),
    (1470, 1746, 1291, 1483, 1629, 1289, 1684, 1314, 1474, 1446, 1515, 1538, 1562, 1579, 1611),
]

LOW_C = '#2272B6'
HIGH_C = '#C1272D'

fig = plt.figure(figsize=(W / 100, H / 100), dpi=100)
ov = fig.add_axes([0, 0, 1, 1], zorder=10)
ov.set_xlim(0, W); ov.set_ylim(H, 0); ov.axis('off'); ov.patch.set_alpha(0)


def add_px_axes(l, t, r, b, **kw):
    return fig.add_axes([l / W, 1 - b / H, (r - l) / W, (b - t) / H], **kw)


def style_axes(ax, lw=1.0):
    for s in ('top', 'right'):
        ax.spines[s].set_visible(False)
    for s in ('left', 'bottom'):
        ax.spines[s].set_linewidth(lw)
        ax.spines[s].set_color('black')
    ax.patch.set_alpha(0)


# ======================= Panel A =======================
axA = add_px_axes(77, 32, 823, 390)
axA.set_xlim(-0.57, 14.57)
axA.set_ylim(0, 1.377)
style_axes(axA, 1.1)
cmap = dict(zip(legend_classes, class_colors))
stats = [dict(med=A_med[i], q1=A_q1[i], q3=A_q3[i], whislo=A_wlo[i], whishi=A_whi[i], fliers=[])
         for i in range(len(A_cats))]
bp = axA.bxp(stats, positions=list(range(len(A_cats))), widths=0.75, patch_artist=True,
             showfliers=False, showcaps=False,
             boxprops=dict(edgecolor='#333333', linewidth=1.0),
             medianprops=dict(color='#333333', linewidth=1.8),
             whiskerprops=dict(color='#333333', linewidth=1.0))
for patch, cls in zip(bp['boxes'], A_class):
    patch.set_facecolor(cmap[cls])
    patch.set_zorder(2)
for i, vals in enumerate(A_points):
    col = cmap[A_class[i]]
    out = [v for v in vals if v > A_whi[i] or v < A_wlo[i]]
    axA.scatter([i] * len(out), out, s=20, c='#2a2a2a', zorder=3, linewidths=0)
    n = len(vals)
    offs = (((np.arange(n) * 0.6180339887) % 1.0) - 0.5) * 0.5
    axA.scatter(i + offs, vals, s=11, c=col, edgecolors='black', linewidths=0.5, zorder=4)
axA.set_xticks(range(len(A_cats)))
axA.set_xticklabels(A_cats, rotation=45, ha='right', rotation_mode='anchor', fontsize=9.5, color='#4D4D4D')
axA.set_yticks([0.0, 0.5, 1.0])
axA.set_yticklabels(['0.0', '0.5', '1.0'], fontsize=9, color='#4D4D4D')
axA.tick_params(axis='both', length=3.5, width=1.0, color='#333333', pad=2.5)
axA.set_ylabel('Risk score', fontsize=11, labelpad=4)
for a, b, lab in A_pairs:
    axA.plot([a, a, b, b], [1.28, 1.314, 1.314, 1.28], color='black', lw=1.0, clip_on=False)
    axA.text((a + b) / 2, 1.322, lab, ha='center', va='bottom', fontsize=10 if lab == 'NS.' else 9)

# Legend for panel A
ov.text(847, 132, 'Class', fontsize=10.5, va='center', ha='left')
ov.add_patch(Rectangle((847, 145), 23, 165, facecolor='#F0F0F0', edgecolor='none'))
leg_y = [157, 181, 204, 228, 251, 274, 298]
for cy, cls, col in zip(leg_y, legend_classes, class_colors):
    ov.plot([858.5, 858.5], [cy - 11, cy + 11], color='#333333', lw=0.8)
    ov.add_patch(Rectangle((849, cy - 6), 19, 12, facecolor=col, edgecolor='#333333', lw=0.9))
    ov.plot([849, 868], [cy, cy], color='#333333', lw=1.2)
    ov.plot([858.5], [cy], marker='o', ms=3.2, mfc=col, mec='black', mew=0.5)
    ov.text(877, cy, cls, fontsize=8.6, va='center', ha='left')

# ======================= KM panels =======================
KM = [
    ((lt60_low_t, lt60_low_s, lt60_low_c), (lt60_high_t, lt60_high_s, lt60_high_c), nar_lt60_high, nar_lt60_low),
    ((ge60_low_t, ge60_low_s, ge60_low_c), (ge60_high_t, ge60_high_s, ge60_high_c), nar_ge60_high, nar_ge60_low),
    ((male_low_t, male_low_s, male_low_c), (male_high_t, male_high_s, male_high_c), nar_male_high, nar_male_low),
    ((lt60_low_t, lt60_low_s, lt60_low_c), (lt60_high_t, lt60_high_s, lt60_high_c), nar_lt60_high, nar_lt60_low),
    ((chemo_low_t, chemo_low_s, chemo_low_c), (chemo_high_t, chemo_high_s, chemo_high_c), nar_chemo_high, nar_chemo_low),
    ((nochemo_low_t, nochemo_low_s, nochemo_low_c), (nochemo_high_t, nochemo_high_s, nochemo_high_c), nar_nochemo_high, nar_nochemo_low),
    ((idhm_low_t, idhm_low_s, idhm_low_c), (idhm_high_t, idhm_high_s, idhm_high_c), nar_idhm_high, nar_idhm_low),
    ((idhw_low_t, idhw_low_s, idhw_low_c), (idhw_high_t, idhw_high_s, idhw_high_c), nar_idhw_high, nar_idhw_low),
    ((meth_low_t, meth_low_s, meth_low_c), (meth_high_t, meth_high_s, meth_high_c), nar_meth_high, nar_meth_low),
    ((unmeth_low_t, unmeth_low_s, unmeth_low_c), (unmeth_high_t, unmeth_high_s, unmeth_high_c), nar_unmeth_high, nar_unmeth_low),
    ((codel_low_t, codel_low_s, codel_low_c), (codel_high_t, codel_high_s, codel_high_c), nar_codel_high, nar_codel_low),
    ((noncodel_low_t, noncodel_low_s, noncodel_low_c), (noncodel_high_t, noncodel_high_s, noncodel_high_c), nar_noncodel_high, nar_noncodel_low),
    ((g3_low_t, g3_low_s, g3_low_c), (g3_high_t, g3_high_s, g3_high_c), nar_g3_high, nar_g3_low),
    ((g4_low_t, g4_low_s, g4_low_c), (g4_high_t, g4_high_s, g4_high_c), nar_g4_high, nar_g4_low),
]

for k, (low, high, r_high, r_low) in enumerate(KM):
    (x0, xe, y1, y0, tx, ty, lx, ly, px, py, time_y, nar_y, rh, rl, ttime_y) = LAY[k]
    xmax = km_xmax[k]
    sx = (xe - x0) / xmax
    sy = (y0 - y1)
    left = x0 - 0.05 * xmax * sx
    right = xe + 0.05 * xmax * sx
    top = y1 - 0.05 * sy
    bottom = y0 + 0.05 * sy
    ax = add_px_axes(left, top, right, bottom)
    ax.set_xlim(-0.05 * xmax, 1.05 * xmax)
    ax.set_ylim(-0.05, 1.05)
    style_axes(ax, 1.0)
    for (t, s, cens), col in ((high, HIGH_C), (low, LOW_C)):
        ax.step(t, s, where='post', color=col, lw=1.3, clip_on=False)
        tt = np.asarray(t)
        idx = np.clip(np.searchsorted(tt, cens, side='right') - 1, 0, len(s) - 1)
        ax.plot(cens, np.asarray(s)[idx], ls='none', marker='+', ms=4.5, mew=0.9, color=col, clip_on=False)
    xt = list(range(0, xmax + 1, 1000))
    ax.set_xticks(xt)
    ax.set_xticklabels([str(v) for v in xt], fontsize=7)
    ax.set_yticks([0, 0.25, 0.5, 0.75, 1.0])
    ax.set_yticklabels(['0.00', '0.25', '0.50', '0.75', '1.00'], fontsize=7)
    ax.tick_params(axis='both', length=2.2, width=0.9, pad=1.0, colors='black')
    # labels / title / legend / p
    ov.text(tx, ty, km_titles[k], fontsize=11, ha='center', va='center')
    ov.text((x0 + xe) / 2, time_y, 'Time', fontsize=9, ha='center', va='center')
    ov.text(left - 62, (y1 + y0) / 2, 'Survival probability', fontsize=8.5, rotation=90, ha='center', va='center')
    ov.text(px, py, km_pvals[k], fontsize=9, ha='left', va='center')
    ov.plot([lx, lx + 19], [ly, ly], color=LOW_C, lw=2.4, solid_capstyle='butt')
    ov.plot([lx, lx + 19], [ly + 14, ly + 14], color=HIGH_C, lw=2.4, solid_capstyle='butt')
    ov.text(lx + 26, ly, 'Low risk', fontsize=8.5, ha='left', va='center')
    ov.text(lx + 26, ly + 14, 'High risk', fontsize=8.5, ha='left', va='center')
    # risk table
    sp = rl - rh
    ttop = rh - 0.6 * sp
    tbot = rl + 0.6 * sp
    axt = add_px_axes(left, ttop, right, tbot)
    axt.set_xlim(-0.05 * xmax, 1.05 * xmax)
    axt.set_ylim(0.4, 2.6)
    style_axes(axt, 1.0)
    for j, tv in enumerate(xt):
        axt.text(tv, 2, str(r_high[j]), ha='center', va='center', fontsize=8)
        axt.text(tv, 1, str(r_low[j]), ha='center', va='center', fontsize=8)
    axt.set_xticks(xt)
    axt.set_xticklabels([str(v) for v in xt], fontsize=7)
    axt.set_yticks([2, 1])
    axt.set_yticklabels(['gene=high', 'gene=low'], fontsize=7.5)
    axt.get_yticklabels()[0].set_color(HIGH_C)
    axt.get_yticklabels()[1].set_color(LOW_C)
    axt.tick_params(axis='both', length=2.2, width=0.9, pad=1.0)
    ov.text(x0 - 0.05 * xmax * sx, nar_y, 'Number at risk', fontsize=10, ha='left', va='center')
    ov.text(left - 62, (rh + rl) / 2, 'Strata', fontsize=8.5, rotation=90, ha='center', va='center')
    ov.text((x0 + xe) / 2, ttime_y, 'Time', fontsize=9, ha='center', va='center')

# panel letters
for lab, (lx_, ly_) in zip('ABCDEFGH', [(22, 24), (969, 24), (21, 495), (908, 495),
                                        (20, 885), (906, 885), (20, 1265), (906, 1264)]):
    ov.text(lx_, ly_, lab, fontsize=17, fontweight='bold', ha='center', va='center')

fig.savefig('out.png', dpi=100)
